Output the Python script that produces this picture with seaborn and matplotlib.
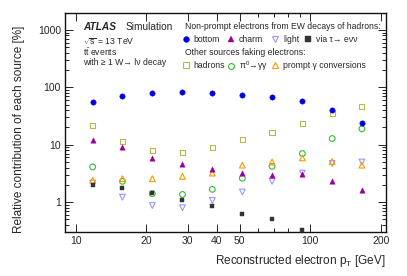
import numpy as np
import pandas as pd
import matplotlib
matplotlib.use("Agg")
import matplotlib.pyplot as plt
import matplotlib.ticker as mticker
from matplotlib.lines import Line2D
from matplotlib.legend import Legend
import seaborn as sns

# values (percent per pT bin)
pt = [11.8, 15.8, 21.2, 28.5, 38.2, 51.3, 68.7, 92.5, 124, 166]
bottom = [55.3, 70.5, 78.5, 81.8, 79.5, 74.3, 68.5, 56.9, 40.1, 23.5]
charm = [12.0, 9.0, 5.9, 4.6, 3.7, 3.2, 3.0, 3.1, 2.3, 1.65]
light = [2.15, 1.22, 0.87, 0.80, 1.07, 1.50, 2.30, 3.2, 4.7, 5.0]
tau = [1.96, 1.76, 1.44, 1.07, 0.85, 0.63, 0.50, 0.33]
hadrons = [21.3, 11.5, 7.9, 7.2, 9.0, 12.3, 16.1, 23.1, 34.5, 45.8]
pi0 = [4.1, 2.3, 1.40, 1.36, 1.67, 2.6, 4.2, 7.0, 12.8, 18.9]
gamma = [2.4, 2.56, 2.56, 2.81, 3.2, 4.4, 5.0, 5.9, 5.1, 4.4]

xticks = [10, 20, 30, 40, 50, 100, 200]
yticks = [1, 10, 100, 1000]

sns.set_style("ticks")
plt.rcParams["font.family"] = ["Liberation Sans", "DejaVu Sans"]
plt.rcParams["mathtext.fontset"] = "custom"
plt.rcParams["mathtext.rm"] = "Liberation Sans"
plt.rcParams["mathtext.it"] = "Liberation Sans:italic"
plt.rcParams["mathtext.bf"] = "Liberation Sans:bold"

fig = plt.figure(figsize=(4.07, 2.76), dpi=100)
ax = fig.add_axes([0.160, 0.159, 0.788, 0.793])

# (label, values, marker, colour, filled)
series = [
    ("bottom", bottom, "o", "#0000dd", True),
    ("charm", charm, "^", "#990099", True),
    ("light", light, "v", "#9999ff", False),
    ("via \u03c4\u2192 e\u03bd\u03bd", tau, "s", "#333333", True),
    ("hadrons", hadrons, "s", "#b8b84a", False),
    ("\u03c0$^0$\u2192\u03b3\u03b3", pi0, "o", "#33bb33", False),
    ("prompt \u03b3 conversions", gamma, "^", "#ff9900", False),
]

for label, vals, mk, col, filled in series:
    df = pd.DataFrame({"pt": pt[:len(vals)], "frac": vals})
    size = 12 if mk == "s" else 15
    if filled:
        sns.scatterplot(data=df, x="pt", y="frac", ax=ax, marker=mk, s=size,
                        color=col, edgecolor=col, linewidth=0.3, zorder=4)
    else:
        sns.scatterplot(data=df, x="pt", y="frac", ax=ax, marker=mk, s=size + 2,
                        facecolors="none", edgecolors=col, linewidth=0.8, zorder=3)

ax.set_xscale("log")
ax.set_yscale("log")
ax.set_xlim(9, 210)
ax.set_ylim(0.3, 1950)

ax.xaxis.set_major_locator(mticker.FixedLocator(xticks))
ax.xaxis.set_major_formatter(mticker.FixedFormatter([str(t) for t in xticks]))
ax.xaxis.set_minor_locator(mticker.FixedLocator([9, 60, 70, 80, 90]))
ax.xaxis.set_minor_formatter(mticker.NullFormatter())
ax.yaxis.set_major_locator(mticker.FixedLocator(yticks))
ax.yaxis.set_major_formatter(mticker.FixedFormatter([str(t) for t in yticks]))
ax.yaxis.set_minor_locator(mticker.LogLocator(base=10, subs=np.arange(2, 10)))
ax.yaxis.set_minor_formatter(mticker.NullFormatter())

ax.tick_params(which="both", direction="in", top=True, right=True,
               labelsize=7.5, width=0.7, color="#222222", pad=3)
ax.tick_params(which="major", length=6)
ax.tick_params(which="minor", length=3)
for sp in ax.spines.values():
    sp.set_linewidth(1.0)
    sp.set_color("#111111")

ax.set_xlabel("Reconstructed electron p$_\\mathrm{T}$ [GeV]", fontsize=8.5,
              ha="right")
ax.set_ylabel("Relative contribution of each source [%]", fontsize=8.5,
              ha="right")
ax.xaxis.set_label_coords(1.0, -0.095)
ax.yaxis.set_label_coords(-0.125, 0.945)

# ATLAS label block
ax.text(0.057, 0.937, "ATLAS", transform=ax.transAxes, fontsize=7.3,
        fontweight="bold", fontstyle="italic", va="center")
ax.text(0.187, 0.937, "Simulation", transform=ax.transAxes, fontsize=7.3,
        va="center")
ax.text(0.057, 0.868, "$\\sqrt{\\mathrm{s}}$ = 13 TeV", transform=ax.transAxes,
        fontsize=6.2, va="center")
ax.text(0.057, 0.822, "$\\mathrm{t\\bar{t}}$ events", transform=ax.transAxes,
        fontsize=6.2, va="center")
ax.text(0.057, 0.776, "with \u2265 1 W\u2192 l\u03bd decay", transform=ax.transAxes,
        fontsize=6.2, va="center")

# legend: headers as text, entries on a fixed grid of single-entry legends
def fx(px):
    return (px - 65) / 321.0

def fy(py):
    return (232 - py) / 219.0

ax.text(fx(184.5), fy(26.5), "Non-prompt electrons from EW decays of hadrons:",
        transform=ax.transAxes, fontsize=6.2, va="center")
ax.text(fx(184.5), fy(52.7), "Other sources faking electrons:",
        transform=ax.transAxes, fontsize=6.2, va="center")

col_px = [186, 231.5, 275.5, 308]
row_px = [39.5, 65.7]
slots = [(0, 0), (0, 1), (0, 2), (0, 3), (1, 0), (1, 1), (1, 2)]
for (label, vals, mk, col, filled), (r, c) in zip(series, slots):
    h = Line2D([], [], linestyle="none", marker=mk,
               markersize=3.8 if mk == "s" else 4.2,
               markerfacecolor=col if filled else "none", markeredgecolor=col,
               markeredgewidth=0.3 if filled else 0.8)
    leg = Legend(ax, [h], [label], loc="center left",
                 bbox_to_anchor=(fx(col_px[c] - 3.6), fy(row_px[r])),
                 bbox_transform=ax.transAxes, frameon=False, fontsize=6.2,
                 handlelength=0.8, handletextpad=0.5, borderpad=0,
                 borderaxespad=0)
    ax.add_artist(leg)

fig.savefig("out.png", dpi=100)
